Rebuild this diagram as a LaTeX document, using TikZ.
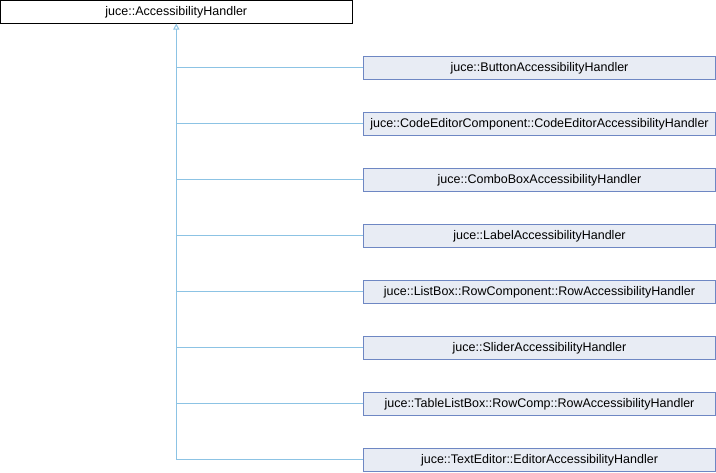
\documentclass[tikz,border=0pt]{standalone}
\usepackage{fontspec}
\setmainfont{Liberation Sans}
\usetikzlibrary{arrows.meta}
\definecolor{edgeblue}{RGB}{140,195,228}
\definecolor{boxfill}{RGB}{232,236,244}
\definecolor{boxdraw}{RGB}{110,135,195}
\begin{document}
\begin{tikzpicture}[x=1pt,y=-1pt,
  basebox/.style={draw=black,fill=white,line width=0.9pt,minimum width=352pt,minimum height=22.5pt,inner sep=0pt,font=\fontsize{12.5}{14}\selectfont},
  childbox/.style={draw=boxdraw,fill=boxfill,line width=0.9pt,minimum width=352pt,minimum height=22.5pt,inner sep=0pt,font=\fontsize{12.5}{14}\selectfont},
  edge/.style={draw=edgeblue,line width=1pt}]
\useasboundingbox (0,0) rectangle (716,472);
\node[basebox] (base) at (176.3,11.8) {juce::AccessibilityHandler};
\node[childbox] (c1) at (539.5,67.8) {juce::ButtonAccessibilityHandler};
\node[childbox] (c2) at (539.5,123.8) {juce::CodeEditorComponent::CodeEditorAccessibilityHandler};
\node[childbox] (c3) at (539.5,179.8) {juce::ComboBoxAccessibilityHandler};
\node[childbox] (c4) at (539.5,235.8) {juce::LabelAccessibilityHandler};
\node[childbox] (c5) at (539.5,291.8) {juce::ListBox::RowComponent::RowAccessibilityHandler};
\node[childbox] (c6) at (539.5,347.8) {juce::SliderAccessibilityHandler};
\node[childbox] (c7) at (539.5,403.8) {juce::TableListBox::RowComp::RowAccessibilityHandler};
\node[childbox] (c8) at (539.5,459.8) {juce::TextEditor::EditorAccessibilityHandler};
\coordinate (trunk) at (176.3,459.8);
\draw[edge,-{Triangle[open,length=6pt,width=6pt]}] (trunk) -- (base.south);
\foreach \c in {c1,c2,c3,c4,c5,c6,c7,c8}{
  \draw[edge] (\c.west) -- (base.south |- \c.west);
}
\end{tikzpicture}
\end{document}
